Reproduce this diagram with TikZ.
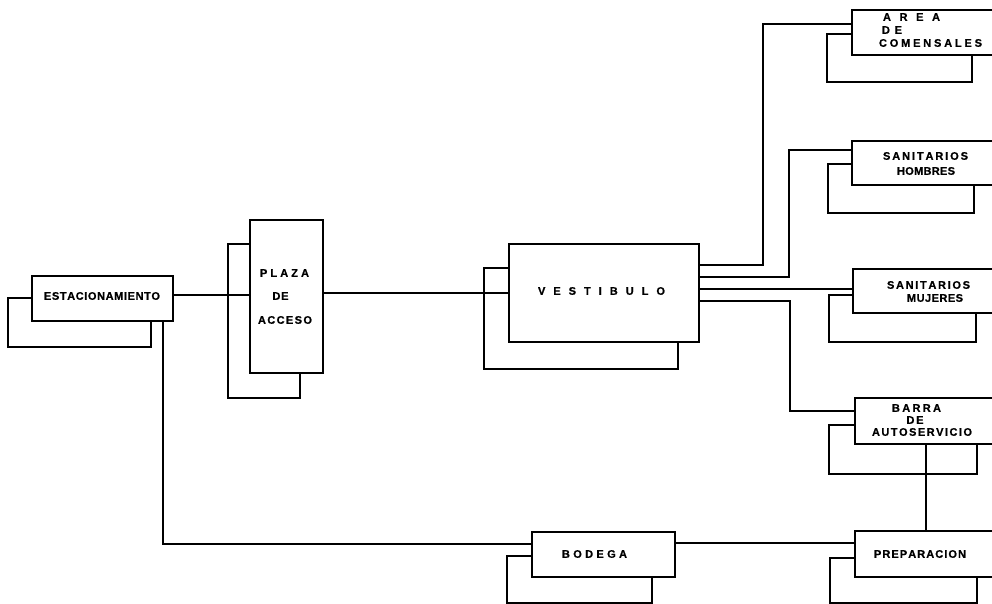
\documentclass[tikz,border=0pt]{standalone}
\usepackage{fontspec}
\newfontfamily\lblfont{Liberation Sans}[BoldFeatures={FakeBold=0.6}]
\ExplSyntaxOn
\NewDocumentCommand\spr{mm}{\makebox[#1][s]{\tl_map_inline:nn{#2}{##1\hfill}\unskip}}
\ExplSyntaxOff
\begin{document}
\begin{tikzpicture}[x=1pt,y=-1pt,
  box/.style={draw, line width=2.4pt, fill=white, inner sep=0pt, outer sep=0pt, anchor=north west},
  shad/.style={draw, line width=1.2pt, inner sep=0pt, outer sep=0pt, anchor=north west},
  con/.style={line width=1.4pt},
  lbl/.style={inner sep=0pt, anchor=center, font=\lblfont\bfseries\fontsize{11}{12}\selectfont}]
\useasboundingbox (0,0) rectangle (992,604);
\clip (0,0) rectangle (992,604);
% shadows
\node[shad, minimum width=143pt, minimum height=49pt]  (estS)   at (8,298) {};
\node[shad, minimum width=72pt,  minimum height=154pt] (plazaS) at (228,244) {};
\node[shad, minimum width=194pt, minimum height=101pt] (vestS)  at (484,268) {};
\node[shad, minimum width=145pt, minimum height=48pt]  (areaS)  at (827,34) {};
\node[shad, minimum width=146pt, minimum height=49pt]  (hombS)  at (828,164) {};
\node[shad, minimum width=147pt, minimum height=47pt]  (mujS)   at (829,295) {};
\node[shad, minimum width=148pt, minimum height=49pt]  (barraS) at (829,425) {};
\node[shad, minimum width=147pt, minimum height=45pt]  (prepS)  at (830,558) {};
\node[shad, minimum width=145pt, minimum height=47pt]  (bodS)   at (507,556) {};
% main box outlines (named; drawn later on top)
\path node[box, draw=none, fill=none, minimum width=141pt, minimum height=45pt]  (est)   at (32,276) {}
      node[box, draw=none, fill=none, minimum width=73pt,  minimum height=153pt] (plaza) at (250,220) {}
      node[box, draw=none, fill=none, minimum width=190pt, minimum height=98pt]  (vest)  at (509,244) {}
      node[box, draw=none, fill=none, minimum width=148pt, minimum height=45pt]  (area)  at (852,10) {}
      node[box, draw=none, fill=none, minimum width=148pt, minimum height=44pt]  (homb)  at (852,141) {}
      node[box, draw=none, fill=none, minimum width=147pt, minimum height=44pt]  (muj)   at (853,269) {}
      node[box, draw=none, fill=none, minimum width=145pt, minimum height=46pt]  (barra) at (855,398) {}
      node[box, draw=none, fill=none, minimum width=145pt, minimum height=46pt]  (prep)  at (855,531) {}
      node[box, draw=none, fill=none, minimum width=143pt, minimum height=45pt]  (bod)   at (532,532) {};
% bend coordinates
\coordinate (jA) at (763,24);
\coordinate (jH) at (789,150);
\coordinate (jB) at (790,411);
\coordinate (jE) at (163,544);
% connectors
\draw[con] ([yshift=3.5pt]est.east) -- ([yshift=3.5pt]est.east -| plaza.west);
\draw[con] (plaza.east |- vest.west) -- (vest.west);
\draw[con] ([yshift=28pt]vest.east) -| (jA) -- (jA -| area.west);
\draw[con] ([yshift=16pt]vest.east) -| (jH) -- (jH -| homb.west);
\draw[con] ([yshift=4pt]vest.east) -- ([yshift=4pt]vest.east -| muj.west);
\draw[con] ([yshift=-8pt]vest.east) -| (jB) -- (jB -| barra.west);
\draw[con] ([xshift=-1.5pt]barra.south) -- ([xshift=-1.5pt]prep.north);
\draw[con] (est.south -| jE) -- (jE) -- (jE -| bod.west);
\draw[con] ([yshift=11.5pt]bod.east) -- ([yshift=11.5pt]bod.east -| prep.west);
% boxes drawn on top
\foreach \n in {est,plaza,vest,area,homb,muj,barra,prep,bod}{
  \draw[line width=2.4pt, fill=white] (\n.north west) rectangle (\n.south east);
}
% labels
\node[lbl] (tEst) at (102,296) {\spr{116pt}{ESTACIONAMIENTO}};
\node[lbl] (tPl1) at (284.5,273) {\spr{49pt}{PLAZA}};
\node[lbl] (tPl2) at (280.5,296) {\spr{16pt}{DE}};
\node[lbl] (tPl3) at (285,320) {\spr{54pt}{ACCESO}};
\node[lbl] (tVe)  at (601.5,291) {\spr{127pt}{VESTIBULO}};
\node[lbl] (tAr1) at (911.5,17) {\spr{57pt}{AREA}};
\node[lbl] (tAr2) at (892,30) {\spr{20pt}{DE}};
\node[lbl] (tAr3) at (930.5,43) {\spr{103pt}{COMENSALES}};
\node[lbl] (tHo1) at (925.5,156) {\spr{85pt}{SANITARIOS}};
\node[lbl] (tHo2) at (926,171) {\spr{58pt}{HOMBRES}};
\node[lbl] (tMu1) at (928.5,285) {\spr{83pt}{SANITARIOS}};
\node[lbl] (tMu2) at (935,298) {\spr{56pt}{MUJERES}};
\node[lbl] (tBa1) at (916.5,408) {\spr{49pt}{BARRA}};
\node[lbl] (tBa2) at (915,420) {\spr{17pt}{DE}};
\node[lbl] (tBa3) at (922,432) {\spr{100pt}{AUTOSERVICIO}};
\node[lbl] (tBo)  at (594.5,554) {\spr{65pt}{BODEGA}};
\node[lbl] (tPr)  at (920,554) {\spr{92pt}{PREPARACION}};
\end{tikzpicture}
\end{document}
